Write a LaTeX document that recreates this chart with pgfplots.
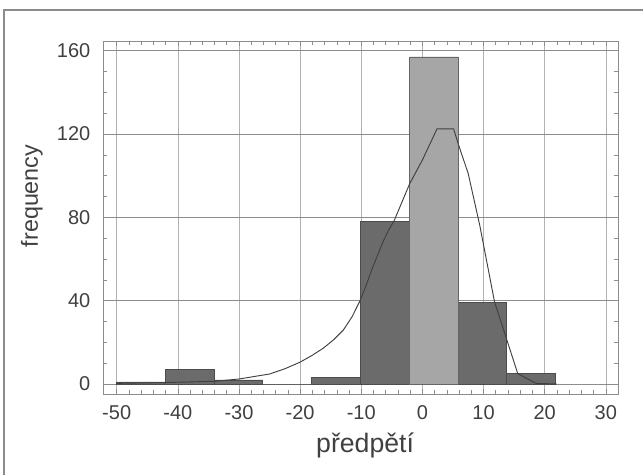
\documentclass[border=0pt]{standalone}
\usepackage{pgfplots}
\pgfplotsset{compat=1.18}
\usepackage{fontspec}
\setmainfont{Liberation Sans}
\begin{document}
\begin{tikzpicture}
\useasboundingbox (0,0) rectangle (482.25pt,356.25pt);
\draw[black!45, line width=0.8pt] (3pt,0) -- (3pt,348.75pt) -- (482.25pt,348.75pt);
\begin{axis}[
  at={(77.25pt,60.75pt)}, anchor=south west,
  scale only axis, width=386.25pt, height=264.75pt,
  xmin=-52.24, xmax=32, ymin=-4.8, ymax=164.66,
  xtick={-50,-40,...,30}, ytick={0,40,...,160},
  minor x tick num=4, minor y tick num=3,
  tick align=inside,
  xtick pos=both, ytick pos=both,
  major tick length=4pt, minor tick length=3pt,
  grid=major,
  major x grid style={black!30, line width=0.4pt},
  major y grid style={black!45, line width=0.5pt},
  axis line style={black!45, line width=0.6pt},
  tick style={black!45, line width=0.4pt},
  ticklabel style={font=\fontsize{15}{17}\selectfont, text=black!75},
  xticklabel style={yshift=-5pt},
  yticklabel style={xshift=-6pt},
  /pgf/number format/assume math mode=true,
  xlabel={předpětí}, ylabel={frequency},
  every axis x label/.style={at={(axis description cs:0.509,-0.1445)}, anchor=center, font=\fontsize{20}{23}\selectfont, text=black!75},
  every axis y label/.style={at={(axis description cs:-0.138,0.561)}, rotate=90, anchor=center, font=\fontsize{17.5}{20}\selectfont, text=black!75},
]
\addplot[ybar interval, fill=black!58, draw=black!70, line width=0.5pt] coordinates {
(-50.0,1) (-42.0,7) (-34.0,2) (-26.1,0) (-18.1,3) (-10.1,78) (-2.1,157) (5.9,39) (13.8,5) (21.8,5)
};
\addplot[ybar interval, fill=black!35, draw=black!60, line width=0.5pt] coordinates {
(-2.1,157) (5.9,157)
};
\addplot[black!75, line width=0.7pt] coordinates {
(-50,0.3) (-42,0.7) (-34,1.3) (-30,2.4) (-25,4.8) (-22.5,7.3) (-20,10.5) (-18,13.8) (-16.2,17.2) (-14.5,21.3) (-12.9,26) (-11.5,32.3) (-10.2,40) (-9.2,47.3) (-8.3,54.7) (-7.3,62) (-6.4,68.5) (-5.5,74) (-4.6,78.5) (-2.1,96) (0,107.5) (2.4,122.5) (5.1,122.5) (5.9,115) (7.5,101) (9.4,76) (11.8,39.5) (15.6,5) (18.6,0.3) (22,0)
};
\end{axis}
\end{tikzpicture}
\end{document}
